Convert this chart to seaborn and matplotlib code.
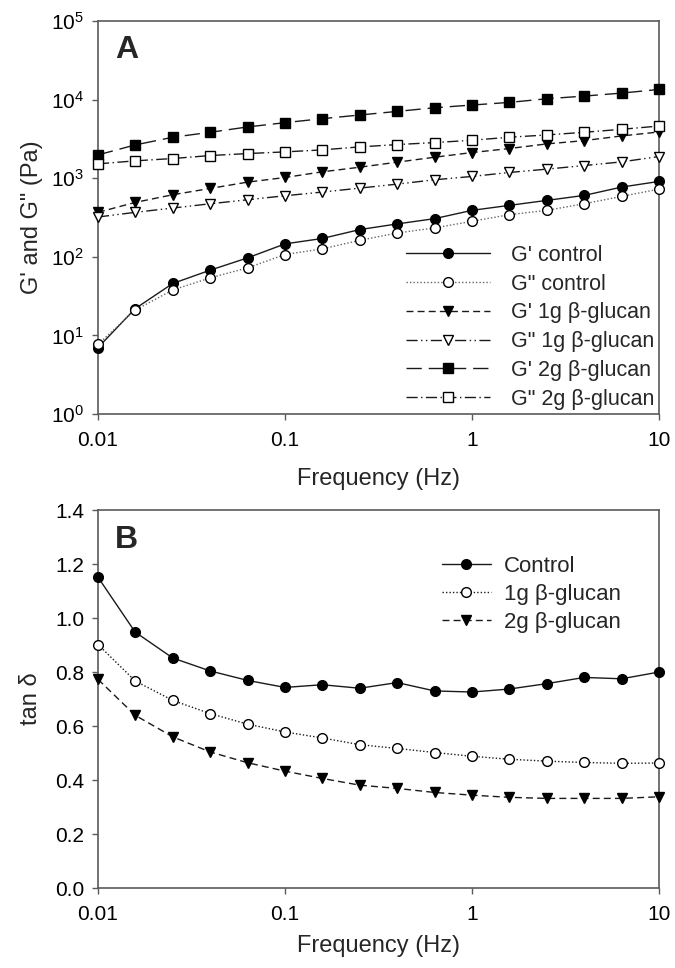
import numpy as np
import pandas as pd
import matplotlib
matplotlib.use("Agg")
import matplotlib.pyplot as plt
import seaborn as sns
from matplotlib.ticker import FixedLocator, NullLocator, FixedFormatter

# frequency sweep (Hz), 5 points per decade
freq = [0.01, 0.0158, 0.0251, 0.0398, 0.0631, 0.1, 0.158, 0.251,
        0.398, 0.631, 1.0, 1.58, 2.51, 3.98, 6.31, 10.0]

# panel A: moduli (Pa)
g1_control = [7.0, 21.9, 45.8, 67.6, 97, 146, 171, 222, 262, 306, 390, 451, 522, 604, 771, 910]
g2_control = [7.7, 21.0, 37.8, 54, 72.4, 107, 126, 162, 201, 233, 283, 343, 390, 473, 587, 726]
g1_1g = [368, 492, 616, 741, 892, 1021, 1205, 1380, 1600, 1850, 2120, 2384, 2731, 3008, 3450, 3875]
g2_1g = [321, 368, 417, 473, 532, 598, 666, 748, 841, 955, 1053, 1183, 1304, 1449, 1613, 1888]
g1_2g = [1980, 2650, 3320, 3840, 4490, 5090, 5720, 6370, 7080, 7880, 8530, 9210, 10250, 11090, 12100, 13470]
g2_2g = [1523, 1663, 1780, 1942, 2059, 2162, 2292, 2502, 2679, 2839, 3040, 3320, 3550, 3840, 4190, 4610]

# panel B: tan delta
tan_control = [1.151, 0.948, 0.852, 0.804, 0.769, 0.743, 0.753, 0.740,
               0.761, 0.730, 0.726, 0.737, 0.757, 0.780, 0.775, 0.800]
tan_1g = [0.902, 0.767, 0.695, 0.646, 0.607, 0.578, 0.556, 0.531,
          0.517, 0.502, 0.488, 0.477, 0.470, 0.465, 0.462, 0.463]
tan_2g = [0.773, 0.640, 0.560, 0.504, 0.464, 0.433, 0.406, 0.381,
          0.369, 0.354, 0.344, 0.336, 0.332, 0.332, 0.332, 0.338]

labels_a = ["G' control", 'G" control', "G' 1g β-glucan",
            'G" 1g β-glucan', "G' 2g β-glucan", 'G" 2g β-glucan']
labels_b = ["Control", "1g β-glucan", "2g β-glucan"]

sns.set_style("ticks")
plt.rcParams['font.family'] = ['Liberation Sans', 'DejaVu Sans']
plt.rcParams['mathtext.fontset'] = 'custom'
plt.rcParams['mathtext.rm'] = 'Liberation Sans'
plt.rcParams['axes.edgecolor'] = '#5a5a5a'
plt.rcParams['xtick.color'] = '#5a5a5a'
plt.rcParams['ytick.color'] = '#5a5a5a'
plt.rcParams['xtick.labelcolor'] = 'black'
plt.rcParams['ytick.labelcolor'] = 'black'

fig = plt.figure(figsize=(6.75, 9.68), dpi=100)
axA = fig.add_axes([0.1452, 0.5723, 0.8311, 0.4060])
axB = fig.add_axes([0.1452, 0.0826, 0.8311, 0.3905])

line_col = '#1a1a1a'
ms = 7.0

# style per series: (values, linestyle, marker, facecolor, linecolor)
styles_a = [
    (g1_control, '-', 'o', 'black', line_col),
    (g2_control, (0, (1, 1.5)), 'o', 'white', '#666666'),
    (g1_1g, (0, (5, 3)), 'v', 'black', line_col),
    (g2_1g, (0, (8, 2.5, 1, 2.5, 1, 2.5)), 'v', 'white', line_col),
    (g1_2g, (0, (11, 5)), 's', 'black', line_col),
    (g2_2g, (0, (8, 2.5, 1, 2.5)), 's', 'white', line_col),
]

for (vals, ls, mk, fc, lc), lab in zip(styles_a, labels_a):
    sns.lineplot(x=freq, y=vals, ax=axA, color=lc, linestyle=ls, lw=1.0,
                 marker=mk, markersize=ms, markerfacecolor=fc,
                 markeredgecolor='black', markeredgewidth=1.0,
                 label=lab, clip_on=False, zorder=3)

styles_b = [
    (tan_control, '-', 'o', 'black', line_col),
    (tan_1g, (0, (1, 1.5)), 'o', 'white', line_col),
    (tan_2g, (0, (5, 3)), 'v', 'black', line_col),
]
for (vals, ls, mk, fc, lc), lab in zip(styles_b, labels_b):
    sns.lineplot(x=freq, y=vals, ax=axB, color=lc, linestyle=ls, lw=1.0,
                 marker=mk, markersize=ms, markerfacecolor=fc,
                 markeredgecolor='black', markeredgewidth=1.0,
                 label=lab, clip_on=False, zorder=3)

xt = [0.01, 0.1, 1, 10]
for ax in (axA, axB):
    ax.set_xscale('log')
    ax.set_xlim(0.01, 10)
    ax.xaxis.set_major_locator(FixedLocator(xt))
    ax.xaxis.set_major_formatter(FixedFormatter(['0.01', '0.1', '1', '10']))
    ax.xaxis.set_minor_locator(NullLocator())
    ax.tick_params(axis='both', direction='out', length=4, width=1.0,
                   labelsize=15, pad=6)
    ax.tick_params(axis='x', pad=8)
    ax.tick_params(top=False, right=False)
    for sp in ax.spines.values():
        sp.set_visible(True)
        sp.set_linewidth(1.2)

axA.set_xlabel('Frequency (Hz)', fontsize=17, labelpad=13)
axB.set_xlabel('Frequency (Hz)', fontsize=17, labelpad=8)

axA.set_yscale('log')
axA.set_ylim(1, 1e5)
axA.yaxis.set_minor_locator(NullLocator())
axA.set_ylabel('G\' and G" (Pa)', fontsize=17, labelpad=6)

axB.set_ylim(0, 1.4)
axB.set_yticks(np.arange(0, 1.41, 0.2))
axB.yaxis.set_major_formatter(plt.FuncFormatter(lambda v, p: f'{v:.1f}'))
axB.set_ylabel('tan δ', fontsize=17, labelpad=9)

axA.text(0.03, 0.965, 'A', transform=axA.transAxes, fontsize=23,
         fontweight='bold', va='top', ha='left')
axB.text(0.03, 0.96, 'B', transform=axB.transAxes, fontsize=23,
         fontweight='bold', va='top', ha='left')

axA.legend(loc='lower right', frameon=False, fontsize=15.5, handlelength=3.9,
           handletextpad=1.0, labelspacing=0.36, borderaxespad=0.0,
           borderpad=0.2, bbox_to_anchor=(1.0, 0.0))
axB.legend(loc='upper right', frameon=False, fontsize=16, handlelength=2.2,
           handletextpad=0.6, labelspacing=0.32, borderpad=0.2,
           bbox_to_anchor=(0.96, 0.92))

fig.savefig('out.png', dpi=100)
